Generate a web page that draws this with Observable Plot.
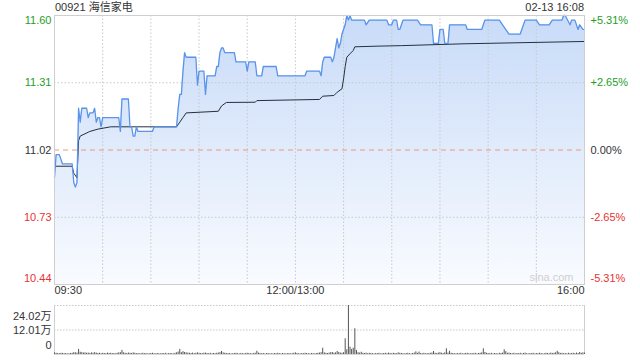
<!DOCTYPE html>
<html><head><meta charset="utf-8">
<script src="https://cdn.jsdelivr.net/npm/d3@7"></script>
<script src="https://cdn.jsdelivr.net/npm/@observablehq/plot@0.6"></script>
<style>
html,body{margin:0;padding:0;background:#fff;}
#wrap{position:relative;width:640px;height:360px;overflow:hidden;font-family:Arial,"Liberation Sans","Noto Sans CJK SC",sans-serif;font-size:11px;color:#333;}
#wrap svg{position:absolute;left:0;}
.hdr{position:absolute;top:1px;line-height:13px;font-size:11px;color:#333;white-space:nowrap;}
</style></head>
<body><div id="wrap">
<div class="hdr" id="title" style="left:55px"></div>
<div class="hdr" id="stamp" style="right:56px"></div>
</div>
<script>
const titleText = "00921 海信家电";
const stampText = "02-13 16:08";

// price series (time, price)
const priceTimes = ["09:30","09:31","09:33","09:35","09:41","09:42","09:43","09:44","09:45","09:46","09:47","09:50","09:51","09:52","09:54","09:55","09:56","09:57","09:58","09:59","10:00","10:10","10:11","10:12","10:16","10:17","10:18","10:19","10:20","10:21","10:22","10:31","10:32","10:46","10:47","10:48","10:49","10:50","10:51","10:52","10:58","10:59","11:00","11:03","11:04","11:05","11:10","11:11","11:12","11:13","11:14","11:15","11:16","11:22","11:23","11:29","11:30","11:31","11:35","11:36","11:39","11:40","11:48","11:49","12:00","13:06","13:07","13:15","13:16","13:17","13:18","13:22","13:23","13:24","13:26","13:27","13:28","13:29","13:31","13:32","13:33","13:34","13:35","13:43","13:44","13:46","13:57","13:58","14:00","14:01","14:03","14:04","14:05","14:07","14:16","14:18","14:25","14:26","14:29","14:30","14:32","14:33","14:35","14:36","14:46","14:47","14:56","14:58","15:07","15:09","15:13","15:20","15:23","15:30","15:32","15:38","15:40","15:46","15:47","15:48","15:51","15:52","15:54","15:56","15:57","15:59","16:00"];
const prices = [10.90,11.00,11.00,10.96,10.96,10.88,10.86,10.88,11.20,11.14,11.20,11.20,11.16,11.18,11.18,11.20,11.14,11.16,11.16,11.12,11.16,11.16,11.10,11.24,11.24,11.12,11.12,11.08,11.08,11.12,11.10,11.10,11.12,11.12,11.20,11.26,11.26,11.36,11.44,11.42,11.42,11.30,11.36,11.36,11.26,11.34,11.34,11.38,11.38,11.44,11.46,11.46,11.44,11.44,11.40,11.40,11.36,11.40,11.40,11.34,11.34,11.38,11.38,11.34,11.34,11.34,11.36,11.36,11.34,11.40,11.42,11.42,11.40,11.42,11.50,11.46,11.48,11.52,11.56,11.60,11.58,11.60,11.58,11.58,11.56,11.58,11.58,11.56,11.56,11.58,11.58,11.54,11.54,11.58,11.58,11.56,11.56,11.48,11.48,11.54,11.54,11.48,11.48,11.56,11.56,11.54,11.54,11.58,11.58,11.56,11.52,11.52,11.58,11.58,11.56,11.56,11.58,11.58,11.60,11.60,11.56,11.58,11.58,11.54,11.56,11.54,11.54];

// average price line
const avgTimes = ["09:30","09:41","09:42","09:44","09:45","09:46","09:49","09:52","09:57","10:05","10:46","10:48","10:50","10:52","11:12","11:14","11:17","11:35","11:36","13:15","13:17","13:24","13:26","13:29","13:30","13:31","13:32","13:34","13:36","13:37","13:52","14:06","14:45","16:00"];
const avgPrices = [10.95,10.95,10.92,10.90,11.06,11.08,11.09,11.10,11.11,11.12,11.12,11.14,11.16,11.18,11.187,11.21,11.225,11.226,11.233,11.238,11.252,11.255,11.269,11.284,11.327,11.38,11.42,11.435,11.449,11.465,11.468,11.47,11.478,11.488];

// per-minute volume (万股), 09:30 .. 16:00 (331 minutes incl. 12:00/13:00 shared)
const volumeWan = [
0.8,0.6,0.5,0.4,0.6,0.5,0.4,0.5,0.3,0.4,0.5,0.6,0.9,0.8,0.7,2.5,1.1,0.9,0.7,0.8,0.6,0.7,0.5,0.8,0.6,0.9,0.7,0.5,0.6,0.4,
0.6,0.5,0.4,0.7,0.5,0.6,0.4,0.5,0.3,0.6,0.8,0.9,2.0,0.8,0.6,0.5,0.7,0.6,0.5,0.8,0.6,0.4,0.5,0.3,0.4,0.6,0.4,0.5,0.3,0.4,
0.5,0.6,0.4,0.3,0.5,0.4,0.3,0.5,0.4,0.6,0.3,0.4,0.5,0.4,0.3,0.6,0.8,1.2,2.5,0.9,1.4,1.0,0.8,0.7,0.6,0.5,0.7,0.4,0.6,0.8,
0.6,0.5,0.4,0.6,0.7,0.5,0.4,0.6,0.3,0.5,0.4,0.6,0.7,0.9,1.5,0.8,0.6,0.5,0.4,0.5,0.3,0.4,0.5,0.6,0.4,0.3,0.5,0.4,0.3,0.5,
0.6,0.5,0.4,0.3,0.5,0.6,1.6,0.7,0.5,0.4,0.5,0.3,0.4,0.5,0.3,0.4,0.3,0.5,0.4,0.6,0.4,0.3,0.5,0.4,0.3,0.4,0.5,0.3,0.4,0.6,
0.8,
0.5,0.4,0.3,0.5,0.4,0.6,0.5,0.4,0.3,0.5,0.4,0.3,0.5,0.6,0.7,0.9,3.1,0.8,0.6,0.5,0.7,0.9,1.0,0.6,0.8,1.5,1.0,0.7,0.6,0.9,
7.7,2.3,24.0,3.6,2.5,3.1,12.6,2.0,0.9,0.7,1.1,0.6,0.5,0.7,0.4,0.6,0.5,0.4,0.3,0.5,0.4,0.6,0.3,0.4,0.5,0.6,0.4,0.7,0.5,0.4,
0.6,0.5,0.4,0.8,0.6,0.5,0.4,0.3,0.5,0.6,0.4,0.3,0.5,0.7,1.3,0.6,1.2,0.5,0.4,0.6,0.3,0.5,0.4,0.6,0.7,1.5,0.6,0.5,0.7,0.9,
0.6,0.5,0.8,2.8,0.7,1.6,0.6,0.5,0.4,0.3,0.5,0.4,0.6,0.3,0.4,0.5,0.6,0.4,0.3,0.5,0.4,0.6,0.3,0.5,0.6,0.8,2.8,1.0,0.6,0.5,
0.4,0.6,0.3,0.5,0.4,0.3,0.6,0.5,0.7,2.3,1.4,0.6,0.7,0.5,0.4,0.6,0.3,0.5,0.4,0.6,0.3,0.5,0.7,0.4,0.3,0.5,0.4,0.6,0.3,0.5,
0.4,0.6,0.5,0.3,0.4,0.6,0.5,0.4,0.7,0.5,0.6,0.8,1.6,0.9,0.5,0.6,0.4,0.5,0.3,0.6,0.4,0.5,0.6,0.4,0.7,0.5,1.0,0.6,0.8,0.7];

// tick labels
const priceTicks = [11.60, 11.31, 11.02, 10.73, 10.44];
const pctLabels = ["+5.31%", "+2.65%", "0.00%", "-2.65%", "-5.31%"];
const tickColors = ["#1f9e1f", "#1f9e1f", "#333333", "#e83232", "#e83232"];
const prevClose = 11.02;
const timeLabels = ["09:30", "12:00/13:00", "16:00"];
const timeLabelAt = ["09:30", "12:00", "16:00"];
const gridTimes = ["10:00","10:30","11:00","11:30","12:00","13:30","14:00","14:30","15:00","15:30"];
const volTicks = [24.02, 12.01, 0];
const volLabels = ["24.02万", "12.01万", "0"];

function tIndex(t) {
  const [h, m] = t.split(":").map(Number);
  const mins = h * 60 + m;
  return mins <= 720 ? mins - 570 : mins - 780 + 150;
}

document.getElementById("title").textContent = titleText;
document.getElementById("stamp").textContent = stampText;

const priceData = priceTimes.map((t, i) => ({m: tIndex(t), p: prices[i]}));
const avgData = avgTimes.map((t, i) => ({m: tIndex(t), p: avgPrices[i]}));
const volData = volumeWan.map((v, i) => ({m: i, v}));
const tickData = priceTicks.map((v, i) => ({v, pct: pctLabels[i], c: tickColors[i]}));

const font = 'Arial, "Liberation Sans", "Noto Sans CJK SC", sans-serif';
const xScale = {type: "linear", domain: [0, 330]};

function sideLabels(sub, dy) {
  return [
    Plot.text(sub, {y: "v", text: d => d.v.toFixed(2), fill: "c", frameAnchor: "left", textAnchor: "end", dx: -3, dy}),
    Plot.text(sub, {y: "v", text: "pct", fill: "c", frameAnchor: "right", textAnchor: "start", dx: 6, dy})
  ];
}

const main = Plot.plot({
  width: 640, height: 300,
  marginTop: 15, marginBottom: 16, marginLeft: 54, marginRight: 56,
  x: {...xScale, axis: null},
  y: {domain: [10.44, 11.60], axis: null},
  style: {fontFamily: font, fontSize: "11px", background: "transparent", overflow: "visible"},
  marks: [
    Plot.areaY(priceData, {x: "m", y1: 10.44, y2: "p", fill: "url(#areaGrad)"}),
    Plot.ruleX(gridTimes.map(tIndex), {stroke: "#c8c8c8", strokeDasharray: "1.5,2"}),
    Plot.ruleY([priceTicks[1], priceTicks[3]], {stroke: "#c8c8c8", strokeDasharray: "1.5,2"}),
    Plot.ruleY([prevClose], {stroke: "#ec9a7c", strokeDasharray: "5,4"}),
    Plot.line(avgData, {x: "m", y: "p", stroke: "#24303f", strokeWidth: 1}),
    Plot.line(priceData, {x: "m", y: "p", stroke: "#5a93ea", strokeWidth: 1.3}),
    Plot.frame({stroke: "#cfcfcf"}),
    ...sideLabels(tickData.slice(0, 1), 5),
    ...sideLabels(tickData.slice(1, 4), 0),
    ...sideLabels(tickData.slice(4), -6),
    Plot.text([timeLabels[0]], {x: () => tIndex(timeLabelAt[0]), text: d => d, frameAnchor: "bottom", dy: 9.5, textAnchor: "start", fill: "#333"}),
    Plot.text([timeLabels[1]], {x: () => tIndex(timeLabelAt[1]), text: d => d, frameAnchor: "bottom", dy: 9.5, textAnchor: "middle", fill: "#333"}),
    Plot.text([timeLabels[2]], {x: () => tIndex(timeLabelAt[2]), text: d => d, frameAnchor: "bottom", dy: 9.5, textAnchor: "end", fill: "#333"}),
    Plot.text(["sina.com"], {text: d => d, frameAnchor: "bottom-right", dx: -11, dy: -4, textAnchor: "end", fill: "#cfcfcf"})
  ]
});
main.style.top = "0px";
const ns = "http://www.w3.org/2000/svg";
const defs = document.createElementNS(ns, "defs");
defs.innerHTML = '<linearGradient id="areaGrad" x1="0" y1="0" x2="0" y2="1"><stop offset="0%" stop-color="#c8dbf8"/><stop offset="100%" stop-color="#f9fbff"/></linearGradient>';
main.insertBefore(defs, main.firstChild);

const vol = Plot.plot({
  width: 640, height: 60,
  marginTop: 5, marginBottom: 6, marginLeft: 54, marginRight: 56,
  x: {...xScale, axis: null},
  y: {domain: [0, 24.02], axis: null},
  style: {fontFamily: font, fontSize: "11px", background: "transparent", overflow: "visible"},
  marks: [
    Plot.ruleY([volTicks[0], volTicks[1]], {stroke: "#c8c8c8", strokeDasharray: "1.5,1.5"}),
    Plot.ruleX([0, 330], {stroke: "#cfcfcf"}),
    Plot.ruleY([0], {stroke: "#d8d8d8"}),
    Plot.ruleX(volData, {x: "m", y1: 0, y2: "v", stroke: "#555", strokeWidth: 1}),
    Plot.text([volLabels[0]], {text: d => d, frameAnchor: "top-left", textAnchor: "end", dx: -3, dy: 7, fill: "#333"}),
    Plot.text([volTicks[1]], {y: d => d, text: () => volLabels[1], frameAnchor: "left", textAnchor: "end", dx: -3, fill: "#333"}),
    Plot.text([volLabels[2]], {text: d => d, frameAnchor: "bottom-left", textAnchor: "end", dx: -3, dy: -6, fill: "#333"})
  ]
});
vol.style.top = "300px";

const wrap = document.getElementById("wrap");
wrap.appendChild(main);
wrap.appendChild(vol);
</script>
</body></html>
